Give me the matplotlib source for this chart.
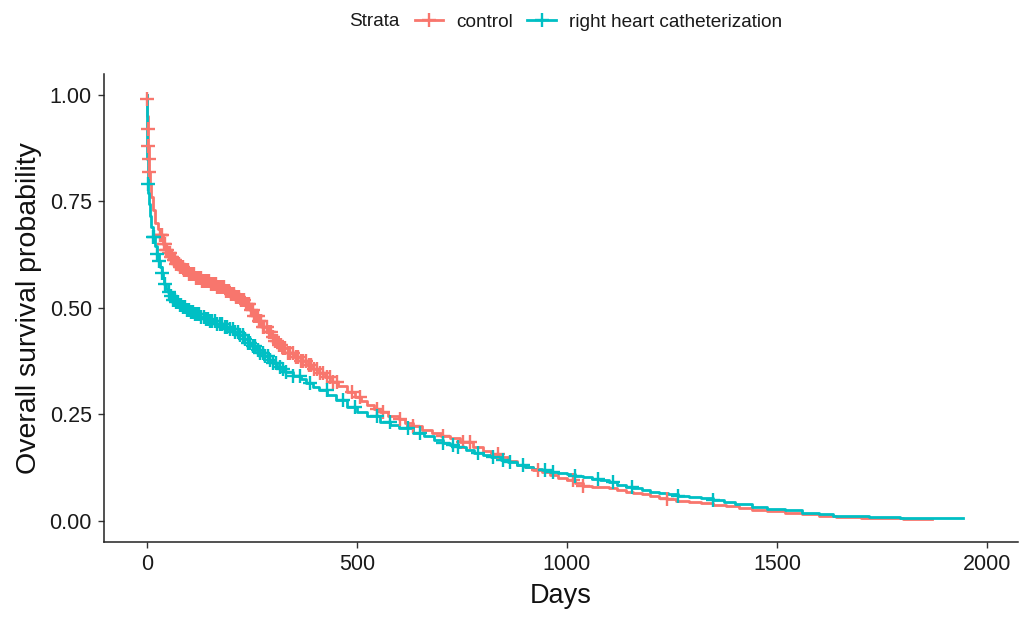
import numpy as np
import matplotlib
matplotlib.use("Agg")
import matplotlib.pyplot as plt
from matplotlib.lines import Line2D

plt.rcParams['font.family'] = ['Liberation Sans', 'DejaVu Sans']

# ---------------- data ----------------
strata = ["control", "right heart catheterization"]
colors = ["#F8766D", "#00BFC4"]

ctrl_t = [0, 0.3, 1, 2, 3, 4, 5, 7, 10, 14, 20, 26, 31, 38, 45, 50, 56, 62, 70, 78, 86,
          100, 115, 130, 150, 167, 185, 200, 212, 221, 233, 245, 255, 265, 275, 286, 296,
          305, 315, 324, 336, 350, 366, 380, 395, 410, 425, 440, 455, 476, 495, 510, 525,
          540, 555, 575, 600, 615, 633, 655, 680, 700, 721, 745, 776, 800, 820, 840, 860,
          881, 900, 920, 940, 960, 980, 1000, 1020, 1038, 1060, 1079, 1100, 1119, 1140,
          1157, 1180, 1198, 1220, 1238, 1260, 1290, 1320, 1348, 1380, 1410, 1440, 1476,
          1520, 1560, 1600, 1640, 1700, 1760, 1800, 1830, 1869]
ctrl_s = [1.0, 0.99, 0.95, 0.92, 0.88, 0.85, 0.82, 0.79, 0.76, 0.73, 0.70, 0.685, 0.672,
          0.650, 0.636, 0.628, 0.620, 0.613, 0.603, 0.596, 0.589,
          0.580, 0.571, 0.563, 0.555, 0.548, 0.540, 0.532, 0.525, 0.518, 0.508, 0.496,
          0.482, 0.468, 0.456, 0.444, 0.432, 0.423, 0.413, 0.405, 0.395, 0.385, 0.375,
          0.366, 0.356, 0.346, 0.337, 0.327, 0.317, 0.302, 0.290, 0.282, 0.272, 0.263,
          0.255, 0.247, 0.238, 0.230, 0.222, 0.213, 0.205, 0.200, 0.194, 0.186, 0.174,
          0.163, 0.156, 0.149, 0.140, 0.132, 0.126, 0.120, 0.114, 0.108, 0.101, 0.095,
          0.088, 0.082, 0.080, 0.079, 0.076, 0.072, 0.068, 0.065, 0.062, 0.059, 0.054,
          0.050, 0.047, 0.044, 0.041, 0.038, 0.034, 0.030, 0.026, 0.022, 0.019, 0.016,
          0.012, 0.009, 0.007, 0.006, 0.005, 0.003, 0.003]
ctrl_cens = [0.5, 2.2, 3.2, 4.2, 5.2,
             31, 34, 37, 40, 43, 46, 49, 52, 55, 58, 61, 64, 67, 70, 73, 76, 79, 82, 85,
             88, 91, 94, 97, 100, 104, 108, 112, 116, 120, 124, 128, 132, 136, 140, 144,
             148, 152, 156, 160, 164, 168, 172, 176, 180, 184, 188, 192, 196, 200, 204,
             208, 212, 216, 220, 224, 228, 232, 236, 240, 244, 248, 252, 256, 260, 264,
             268, 272, 276, 280, 285, 290, 295, 300, 305, 310, 315, 320, 325, 330, 336,
             342, 348, 354, 360, 366, 372, 378, 385, 392, 399, 406, 413, 420, 428, 436,
             444, 452, 488, 507, 548, 562, 602, 633, 705, 752, 769, 836, 931, 1014, 1038,
             1238]

rhc_t = [0, 0.3, 1, 2, 3, 5, 8, 11, 14, 19, 24, 28, 31, 35, 38, 42, 46, 50, 55, 62, 70,
         78, 86, 95, 105, 115, 126, 138, 150, 165, 181, 193, 205, 217, 229, 240, 250, 260,
         269, 280, 290, 300, 310, 320, 330, 348, 366, 380, 395, 410, 430, 450, 476, 500,
         525, 555, 580, 600, 633, 660, 683, 705, 721, 740, 760, 780, 800, 820, 842, 860,
         881, 900, 920, 940, 960, 980, 1001, 1019, 1038, 1060, 1079, 1100, 1119, 1140,
         1157, 1180, 1198, 1220, 1240, 1264, 1290, 1320, 1348, 1375, 1400, 1440, 1476,
         1520, 1560, 1600, 1633, 1680, 1720, 1760, 1793, 1943]
rhc_s = [1.0, 0.95, 0.85, 0.79, 0.77, 0.745, 0.715, 0.69, 0.667, 0.645, 0.626, 0.610,
         0.597, 0.582, 0.570, 0.556, 0.545, 0.537, 0.527, 0.519, 0.513, 0.507, 0.502,
         0.496, 0.490, 0.485, 0.479, 0.473, 0.468, 0.462, 0.455, 0.450, 0.444, 0.436,
         0.427, 0.418, 0.410, 0.402, 0.394, 0.386, 0.378, 0.370, 0.362, 0.356, 0.350,
         0.341, 0.332, 0.324, 0.315, 0.306, 0.295, 0.283, 0.268, 0.256, 0.245, 0.232,
         0.225, 0.218, 0.207, 0.198, 0.190, 0.183, 0.178, 0.172, 0.166, 0.160, 0.155,
         0.149, 0.143, 0.137, 0.131, 0.126, 0.122, 0.118, 0.115, 0.112, 0.109, 0.106,
         0.103, 0.099, 0.096, 0.090, 0.085, 0.080, 0.076, 0.072, 0.068, 0.065, 0.062,
         0.059, 0.056, 0.053, 0.049, 0.044, 0.039, 0.033, 0.028, 0.024, 0.019, 0.015,
         0.012, 0.010, 0.009, 0.008, 0.007, 0.007]
rhc_cens = [2.5, 14, 18, 24, 28, 36, 44, 52, 58, 62, 66, 70, 74, 78, 82, 86, 90, 95, 100,
            105, 110, 115, 120, 125, 130, 135, 140, 145, 150, 156, 162, 168, 174, 180, 186,
            192, 198, 204, 210, 216, 222, 228, 234, 240, 246, 252, 258, 264, 270, 276, 282,
            288, 294, 300, 308, 316, 324, 332, 348, 364, 388, 428, 467, 495, 548, 579, 621,
            650, 705, 729, 740, 788, 824, 848, 864, 895, 948, 967, 1019, 1074, 1110, 1155,
            1264, 1348]

x_ticks = [0, 500, 1000, 1500, 2000]
y_ticks = [0.00, 0.25, 0.50, 0.75, 1.00]
y_tick_labels = ["0.00", "0.25", "0.50", "0.75", "1.00"]

# ---------------- figure ----------------
W, H, DPI = 1021, 619, 100
fig = plt.figure(figsize=(W / DPI, H / DPI), dpi=DPI)
ax = fig.add_axes([104 / W, (H - 542) / H, 914 / W, 468.3 / H])

series = [(ctrl_t, ctrl_s, ctrl_cens), (rhc_t, rhc_s, rhc_cens)]
for (t, s, c), col in zip(series, colors):
    t = np.asarray(t, float)
    s = np.asarray(s, float)
    ax.step(t, s, where='post', color=col, lw=2.0, zorder=3)
    c = np.asarray(c, float)
    idx = np.searchsorted(t, c, side='right') - 1
    ax.plot(c, s[idx], ls='none', marker='+', ms=10.5, mew=1.7, color=col, zorder=4)

ax.set_xlim(-102, 2074)
ax.set_ylim(-0.05, 1.05)
ax.set_xticks(x_ticks)
ax.set_yticks(y_ticks)
ax.set_yticklabels(y_tick_labels)

for sp in ['top', 'right']:
    ax.spines[sp].set_visible(False)
for sp in ['left', 'bottom']:
    ax.spines[sp].set_linewidth(1.1)
    ax.spines[sp].set_color('#222222')

ax.tick_params(axis='both', which='major', length=4.3, width=1.0, color='#333333',
               labelsize=15.5, labelcolor='#1a1a1a', pad=4.5)

ax.set_xlabel("Days", fontsize=19.5, color='#111111')
ax.set_ylabel("Overall survival probability", fontsize=20.5, color='#111111')
ax.xaxis.set_label_coords(0.5, -0.088)
ax.yaxis.set_label_coords(-0.068, 0.5)

# legend on top
handles = [Line2D([0], [0], color=col, lw=2.0, marker='+', ms=10.5, mew=1.7)
           for col in colors]
leg = fig.legend(handles, strata, loc='center', ncol=2, frameon=False,
                 bbox_to_anchor=(598.5 / W, 1 - 22 / H), fontsize=13.7,
                 handlelength=1.5, handletextpad=0.7, columnspacing=0.75,
                 borderpad=0, borderaxespad=0)
for txt in leg.get_texts():
    txt.set_color('#1a1a1a')
fig.text(399 / W, 1 - 22 / H, "Strata", ha='right', va='center', fontsize=13.7,
         color='#1a1a1a')

fig.savefig("out.png", dpi=DPI, facecolor='white')
